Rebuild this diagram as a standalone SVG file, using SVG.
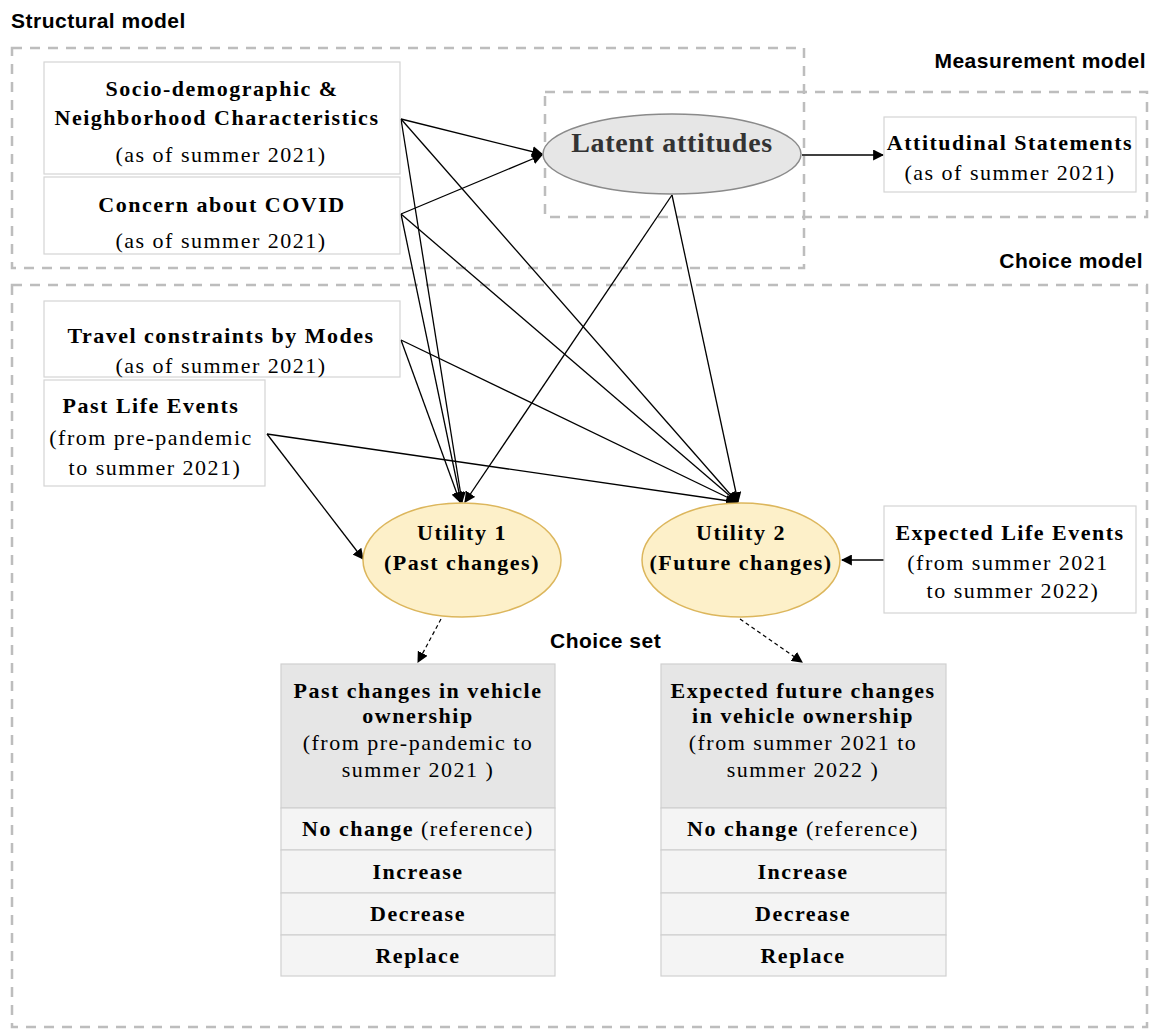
<svg xmlns="http://www.w3.org/2000/svg" width="1151" height="1030" viewBox="0 0 1151 1030">
<defs>
<style>
.zone{fill:none;stroke:#bdbdbd;stroke-width:2.5;stroke-dasharray:10 8}
.lbl{font-family:"Liberation Sans",Arial,sans-serif;font-weight:bold;font-size:21px;letter-spacing:0.5px;fill:#000}
.box{fill:#fff;stroke:#d4d4d4;stroke-width:1.2}
.hdr{fill:#e6e6e6;stroke:#d0d0d0;stroke-width:1.2}
.row{fill:#f4f4f4;stroke:#d0d0d0;stroke-width:1.2}
.t{font-family:"Liberation Serif","Times New Roman",serif;font-size:22px;letter-spacing:1.5px;fill:#000;text-anchor:middle}
.b{font-weight:bold}
.util{fill:#fdf0c9;stroke:#dcb65c;stroke-width:1.5}
.lat{fill:#e6e6e6;stroke:#8a8a8a;stroke-width:1.5}
.c{fill:none;stroke:#000;stroke-width:1.3}
.d{fill:none;stroke:#000;stroke-width:1.2;stroke-dasharray:4 3}
</style>
<marker id="ah" viewBox="0 0 10 10" refX="9" refY="5" markerWidth="11" markerHeight="11" markerUnits="userSpaceOnUse" orient="auto">
<path d="M0,0 L10,5 L0,10 z" fill="#000"/>
</marker>
</defs>
<rect width="1151" height="1030" fill="#fff"/>

<g id="zones">
<rect class="zone" x="12" y="48" width="792" height="220"/>
<rect class="zone" x="545" y="92" width="602" height="125"/>
<rect class="zone" x="12" y="285" width="1135" height="742"/>
<text class="lbl" x="11" y="28">Structural model</text>
<text class="lbl" x="1146" y="68" text-anchor="end">Measurement model</text>
<text class="lbl" x="1143" y="268" text-anchor="end">Choice model</text>
<text class="lbl" x="550" y="648">Choice set</text>
</g>

<g id="connectors">
<line class="c" x1="401" y1="119" x2="542" y2="154" marker-end="url(#ah)"/>
<line class="c" x1="401" y1="214" x2="542" y2="155" marker-end="url(#ah)"/>
<line class="c" x1="802" y1="155" x2="883" y2="155" marker-end="url(#ah)"/>
<line class="c" x1="401" y1="119" x2="462" y2="502" marker-end="url(#ah)"/>
<line class="c" x1="401" y1="214" x2="461" y2="502" marker-end="url(#ah)"/>
<line class="c" x1="401" y1="340" x2="460" y2="502" marker-end="url(#ah)"/>
<line class="c" x1="672" y1="195" x2="465" y2="502" marker-end="url(#ah)"/>
<line class="c" x1="401" y1="119" x2="737" y2="502" marker-end="url(#ah)"/>
<line class="c" x1="401" y1="214" x2="737" y2="502" marker-end="url(#ah)"/>
<line class="c" x1="401" y1="340" x2="737" y2="502" marker-end="url(#ah)"/>
<line class="c" x1="672" y1="195" x2="738" y2="502" marker-end="url(#ah)"/>
<line class="c" x1="267" y1="434" x2="736" y2="502" marker-end="url(#ah)"/>
<line class="c" x1="267" y1="434" x2="363" y2="559" marker-end="url(#ah)"/>
<line class="c" x1="884" y1="560" x2="842" y2="560" marker-end="url(#ah)"/>
<line class="d" x1="441" y1="619" x2="418" y2="662" marker-end="url(#ah)"/>
<line class="d" x1="740" y1="619" x2="802" y2="662" marker-end="url(#ah)"/>
</g>

<g id="socio">
<rect class="box" x="44" y="62" width="356" height="112"/>
<text class="t b" x="222" y="96">Socio-demographic &amp;</text>
<text class="t b" x="217" y="125" letter-spacing="1.9">Neighborhood Characteristics</text>
<text class="t" x="221" y="162">(as of summer 2021)</text>
</g>

<g id="concern">
<rect class="box" x="44" y="177" width="356" height="77"/>
<text class="t b" x="222" y="212">Concern about COVID</text>
<text class="t" x="221" y="248">(as of summer 2021)</text>
</g>

<g id="latent">
<ellipse class="lat" cx="672" cy="154" rx="129" ry="40"/>
<text x="672" y="152" text-anchor="middle" font-family="'Liberation Serif','Times New Roman',serif" font-weight="bold" font-size="28" letter-spacing="0.7" fill="#333">Latent attitudes</text>
</g>

<g id="attitudinal">
<rect class="box" x="884" y="117" width="252" height="75"/>
<text class="t b" x="1010" y="150">Attitudinal Statements</text>
<text class="t" x="1010" y="180">(as of summer 2021)</text>
</g>

<g id="travel">
<rect class="box" x="44" y="301" width="356" height="76"/>
<text class="t b" x="221" y="343">Travel constraints by Modes</text>
<text class="t" x="221" y="373">(as of summer 2021)</text>
</g>

<g id="pastlife">
<rect class="box" x="44" y="380" width="221" height="106"/>
<text class="t b" x="151" y="413">Past Life Events</text>
<text class="t" x="151" y="445">(from pre-pandemic</text>
<text class="t" x="155" y="475">to summer 2021)</text>
</g>

<g id="utility1">
<ellipse class="util" cx="462" cy="560" rx="99" ry="57"/>
<text class="t b" x="462" y="540" letter-spacing="1">Utility 1</text>
<text class="t b" x="462" y="570">(Past changes)</text>
</g>

<g id="utility2">
<ellipse class="util" cx="741" cy="560" rx="99" ry="57"/>
<text class="t b" x="741" y="540" letter-spacing="1.1">Utility 2</text>
<text class="t b" x="741" y="570">(Future changes)</text>
</g>

<g id="expected">
<rect class="box" x="884" y="506" width="252" height="107"/>
<text class="t b" x="1010" y="540">Expected Life Events</text>
<text class="t" x="1008" y="570">(from summer 2021</text>
<text class="t" x="1013" y="598">to summer 2022)</text>
</g>

<g id="pastchoice">
<rect class="hdr" x="281" y="664" width="274" height="144"/>
<rect class="row" x="281" y="808" width="274" height="42"/>
<rect class="row" x="281" y="850" width="274" height="43"/>
<rect class="row" x="281" y="893" width="274" height="42"/>
<rect class="row" x="281" y="935" width="274" height="41"/>
<text class="t b" x="418" y="698" letter-spacing="1.3">Past changes in vehicle</text>
<text class="t b" x="418" y="723">ownership</text>
<text class="t" x="418" y="750">(from pre-pandemic to</text>
<text class="t" x="418" y="777">summer 2021 )</text>
<text class="t" x="418" y="836" letter-spacing="1.2"><tspan class="b">No change</tspan> (reference)</text>
<text class="t b" x="418" y="879">Increase</text>
<text class="t b" x="418" y="921">Decrease</text>
<text class="t b" x="418" y="963">Replace</text>
</g>

<g id="futurechoice">
<rect class="hdr" x="661" y="664" width="285" height="144"/>
<rect class="row" x="661" y="808" width="285" height="42"/>
<rect class="row" x="661" y="850" width="285" height="43"/>
<rect class="row" x="661" y="893" width="285" height="42"/>
<rect class="row" x="661" y="935" width="285" height="41"/>
<text class="t b" x="803" y="698" letter-spacing="1.4">Expected future changes</text>
<text class="t b" x="803" y="723">in vehicle ownership</text>
<text class="t" x="803" y="750">(from summer 2021 to</text>
<text class="t" x="803" y="777">summer 2022 )</text>
<text class="t" x="803" y="836" letter-spacing="1.2"><tspan class="b">No change</tspan> (reference)</text>
<text class="t b" x="803" y="879">Increase</text>
<text class="t b" x="803" y="921">Decrease</text>
<text class="t b" x="803" y="963">Replace</text>
</g>
</svg>
